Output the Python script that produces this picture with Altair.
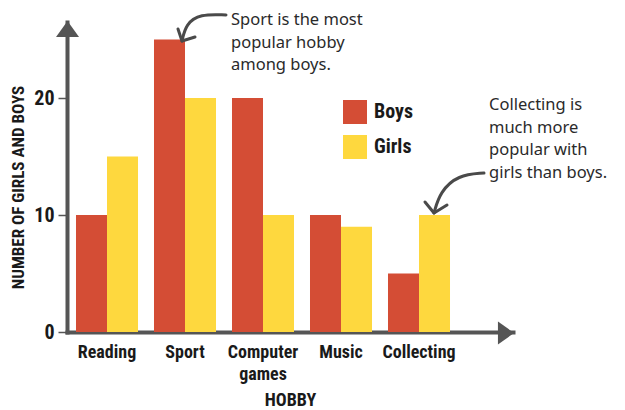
import altair as alt
import pandas as pd

# ---- data ----
hobbies = ["Reading", "Sport", "Computer games", "Music", "Collecting"]
boys = [10, 25, 20, 10, 5]
girls = [15, 20, 10, 9, 10]
groups = ["Boys", "Girls"]
colors = ["#d44d35", "#fed83e"]
y_ticks = [0, 10, 20]
y_title = "NUMBER OF GIRLS AND BOYS"
x_title = "HOBBY"
note_sport = ["Sport is the most", "popular hobby", "among boys."]
note_collect = ["Collecting is", "much more", "popular with", "girls than boys."]

# annotation arrows (page pixel coordinates, decoration only)
arrow_curve_x = [226, 200, 186, 182, 484, 458, 440, 434]
arrow_curve_y = [15, 14, 24, 41, 173, 175, 192, 213]
arrow_curve_id = [1, 1, 1, 1, 2, 2, 2, 2]
arrow_head_x = [178, 182, 195, 425, 434, 447]
arrow_head_y = [29, 41, 37, 202, 213, 205]
arrow_head_id = [1, 1, 1, 2, 2, 2]

COND = ("Noto Sans Condensed, Roboto Condensed, DejaVu Sans Condensed, "
        "Liberation Sans Narrow, Open Sans Condensed, sans-serif")
TXT = "Noto Sans, Open Sans, sans-serif"
AX = "#555555"

W, H = 446, 310
LEFT, TOP = 67, 22

rows = []
for h, b, g in zip(hobbies, boys, girls):
    rows.append({"hobby": h, "group": "Boys", "count": b})
    rows.append({"hobby": h, "group": "Girls", "count": g})
df = pd.DataFrame(rows)

bars = alt.Chart(df).mark_bar().encode(
    x=alt.X("hobby:N", sort=hobbies,
            scale=alt.Scale(paddingInner=0.205, paddingOuter=0.4615, align=0.125),
            axis=alt.Axis(title=x_title, labelAngle=0, ticks=False,
                          labelExpr="split(datum.label, ' ')",
                          labelFont=COND, labelFontSize=18, labelFontWeight="bold",
                          labelColor="#1a1a1a", labelPadding=11, labelLineHeight=22,
                          titleFont=COND, titleFontSize=18, titleFontWeight="bold",
                          titleColor="#1a1a1a", titlePadding=8,
                          domainColor=AX, domainWidth=4, domainCap="square")),
    xOffset=alt.XOffset("group:N", sort=groups,
                        scale=alt.Scale(paddingInner=0, paddingOuter=0)),
    y=alt.Y("count:Q", scale=alt.Scale(domain=[0, 26.5], nice=False),
            axis=alt.Axis(values=y_ticks, title=y_title, grid=False,
                          labelFont=COND, labelFontSize=20, labelFontWeight="bold",
                          labelColor="#1a1a1a", labelPadding=4,
                          tickSize=9, tickColor=AX, tickWidth=1.5,
                          titleFont=COND, titleFontSize=17, titleFontWeight="bold",
                          titleColor="#1a1a1a", titleX=-40, titleY=165,
                          domainColor=AX, domainWidth=4, domainCap="square")),
    color=alt.Color("group:N", scale=alt.Scale(domain=groups, range=colors),
                    legend=alt.Legend(title=None, orient="none", legendX=276, legendY=78,
                                      symbolType="square", symbolSize=576,
                                      symbolStrokeWidth=0, labelFont=COND,
                                      labelFontSize=20, labelFontWeight="bold",
                                      labelColor="#1a1a1a", labelOffset=7,
                                      rowPadding=11, padding=0)),
)

xs = alt.Scale(domain=[LEFT, LEFT + W], range=[0, W])
ys = alt.Scale(domain=[TOP, TOP + H], range=[0, H])

curve_df = pd.DataFrame({"px": arrow_curve_x, "py": arrow_curve_y, "id": arrow_curve_id,
                         "o": list(range(len(arrow_curve_x)))})
head_df = pd.DataFrame({"px": arrow_head_x, "py": arrow_head_y, "id": arrow_head_id,
                        "o": list(range(len(arrow_head_x)))})

curves = alt.Chart(curve_df).mark_line(interpolate="basis", color="#4a4a4a",
                                       strokeWidth=3, strokeCap="round").encode(
    x=alt.X("px:Q", scale=xs, axis=None),
    y=alt.Y("py:Q", scale=ys, axis=None),
    detail="id:N", order="o:Q")
heads = alt.Chart(head_df).mark_line(color="#4a4a4a", strokeWidth=3,
                                     strokeCap="round", strokeJoin="round").encode(
    x=alt.X("px:Q", scale=xs, axis=None),
    y=alt.Y("py:Q", scale=ys, axis=None),
    detail="id:N", order="o:Q")

one = pd.DataFrame({"a": [0]})
up_arrow = alt.Chart(one).mark_point(shape="M-1,0.7L1,0.7L0,-0.7Z", size=529,
                                     filled=True, color=AX, opacity=1,
                                     strokeWidth=0).encode(
    x=alt.value(0.5), y=alt.value(7))
right_arrow = alt.Chart(one).mark_point(shape="M-0.7,-1L0.7,0L-0.7,1Z", size=529,
                                        filled=True, color=AX, opacity=1,
                                        strokeWidth=0).encode(
    x=alt.value(439), y=alt.value(311))

t1 = alt.Chart(one).mark_text(text=note_sport, align="left", baseline="alphabetic",
                              font=TXT, fontSize=16.5, lineHeight=22.5,
                              color="#2a2a2a").encode(x=alt.value(164), y=alt.value(3))
t2 = alt.Chart(one).mark_text(text=note_collect, align="left", baseline="alphabetic",
                              font=TXT, fontSize=16.5, lineHeight=22.5,
                              color="#2a2a2a").encode(x=alt.value(422), y=alt.value(88))

chart = alt.layer(bars, curves, heads, up_arrow, right_arrow, t1, t2).resolve_scale(
    x="independent", y="independent"
).properties(
    width=W, height=H,
    autosize=alt.AutoSizeParams(type="none"),
    padding={"left": 59, "top": 14, "right": 104, "bottom": 76},
    background="white",
).configure_view(stroke=None)

chart.save("out.html", embed_options={"renderer": "svg", "actions": False})
